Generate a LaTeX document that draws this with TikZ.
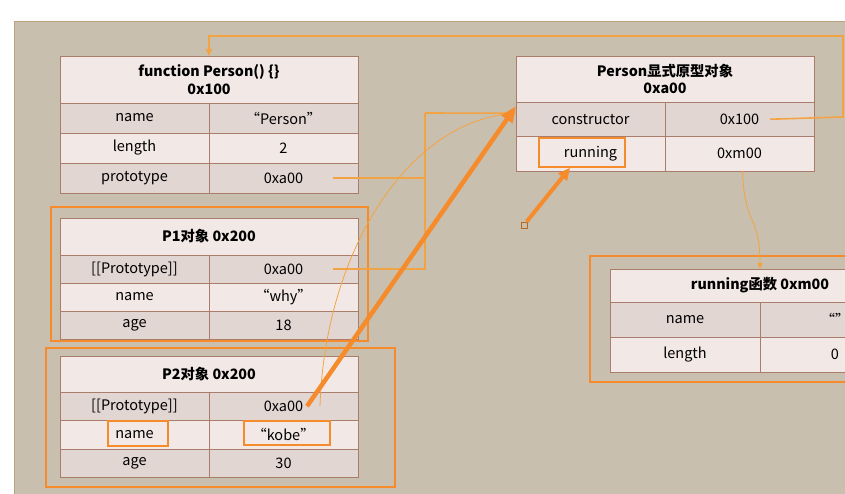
\documentclass[tikz,border=0pt]{standalone}
\usepackage{fontspec}
\setmainfont{Noto Sans CJK SC}
\usetikzlibrary{arrows.meta,positioning}
\definecolor{bgtan}{HTML}{C9BFAE}
\definecolor{bgline}{HTML}{B9A27E}
\definecolor{cellline}{HTML}{A97C6B}
\definecolor{celllight}{HTML}{F2E9E7}
\definecolor{celldark}{HTML}{E2D6D2}
\definecolor{hlorange}{HTML}{F68B2C}
\definecolor{lnorange}{HTML}{F2A445}

\begin{document}
\begin{tikzpicture}[
  x=1pt, y=-1pt,
  cell/.style={rectangle, draw=cellline, line width=0.9pt, inner sep=0pt, outer sep=0pt, minimum width=149pt, font=\fontsize{14.5}{16}\selectfont},
  dk/.style={cell, fill=celldark, minimum height=#1},
  dk/.default=30pt,
  lt/.style={cell, fill=celllight, minimum height=#1},
  lt/.default=30pt,
  head/.style={cell, fill=celllight, minimum width=298pt, align=center, font=\fontsize{14.3}{17.5}\selectfont\bfseries},
  frame/.style={draw=hlorange, line width=1.6pt},
  hlbox/.style={rectangle, draw=hlorange, line width=1.6pt, inner sep=0pt},
  link/.style={draw=lnorange, line width=1.6pt},
  arrow/.style={link, -{Triangle[length=7pt,width=6pt]}},
  bigarrow/.style={draw=hlorange, line width=4.5pt, -{Triangle[length=16pt,width=13pt]}},
  handlebox/.style={rectangle, draw=hlorange!75!black, fill=bgtan, line width=0.8pt, minimum size=6pt, inner sep=0pt}
]
\clip (0,0) rectangle (845,494);
\fill[white] (0,0) rectangle (845,494);
\draw[bgline, fill=bgtan, line width=1pt] (14,22) rectangle (860,510);

% function Person
\node[head, minimum height=47pt, anchor=north west] (fhead) at (60,56) {function Person() \{\}\\0x100};
\node[dk, anchor=north west] (fname) at (fhead.south west) {name};
\node[dk, right=0pt of fname] (fnamev) {“Person”};
\node[lt, below=0pt of fname] (flen) {length};
\node[lt, right=0pt of flen] (flenv) {2};
\node[dk, below=0pt of flen] (fproto) {prototype};
\node[dk, right=0pt of fproto] (fprotov) {0xa00};

% P1
\draw[frame] (51,207) rectangle (368,341);
\node[head, minimum height=37pt, anchor=north west] (p1head) at (60,218) {P1对象 0x200};
\node[dk=28pt, anchor=north west] (p1proto) at (p1head.south west) {[[Prototype]]};
\node[dk=28pt, right=0pt of p1proto] (p1protov) {0xa00};
\node[lt=28pt, below=0pt of p1proto] (p1name) {name};
\node[lt=28pt, right=0pt of p1name] (p1namev) {“why”};
\node[dk=28pt, below=0pt of p1name] (p1age) {age};
\node[dk=28pt, right=0pt of p1age] (p1agev) {18};

% P2
\draw[frame] (46,348) rectangle (395,487);
\node[head, minimum height=36pt, anchor=north west] (p2head) at (60,356) {P2对象 0x200};
\node[dk=28.5pt, anchor=north west] (p2proto) at (p2head.south west) {[[Prototype]]};
\node[dk=28.5pt, right=0pt of p2proto] (p2protov) {0xa00};
\node[lt=28.5pt, below=0pt of p2proto] (p2name) {name};
\node[lt=28.5pt, right=0pt of p2name] (p2namev) {“kobe”};
\node[dk=28.5pt, below=0pt of p2name] (p2age) {age};
\node[dk=28.5pt, right=0pt of p2age] (p2agev) {30};
\node[hlbox, minimum width=60pt, minimum height=25pt] (namehl) at (138,433.5) {};
\node[hlbox, minimum width=86pt, minimum height=24pt] (kobehl) at (287,433) {};

% Person prototype object
\node[head, minimum height=46pt, anchor=north west] (phead) at (516,56) {Person显式原型对象\\0xa00};
\node[dk=34.5pt, anchor=north west] (ctor) at (phead.south west) {constructor};
\node[dk=34.5pt, right=0pt of ctor] (ctorv) {0x100};
\node[lt=34.5pt, below=0pt of ctor] (run) {running};
\node[lt=34.5pt, right=0pt of run] (runv) {0xm00};
\node[hlbox, minimum width=86pt, minimum height=29pt] (runhl) at (582,152.5) {};

% running function
\draw[frame] (590,256) rectangle (870,382);
\node[head, minimum width=300pt, minimum height=33pt, anchor=north west] (rfhead) at (610,269) {running函数 0xm00};
\node[dk=35pt, minimum width=150pt, anchor=north west] (rfname) at (rfhead.south west) {name};
\node[dk=35pt, minimum width=150pt, right=0pt of rfname] (rfnamev) {“”};
\node[lt=35pt, minimum width=150pt, below=0pt of rfname] (rflen) {length};
\node[lt=35pt, minimum width=150pt, right=0pt of rflen] (rflenv) {0};

% connectors
\coordinate (jn) at (425,113);
\draw[arrow] ([xshift=-44pt]ctorv.east) -- (843,117) |- (209,36) -- (fhead.north);
\draw[link] ([xshift=-25pt]fprotov.east) -| (jn);
\draw[link] ([xshift=-25pt]p1protov.east) -| (jn);
\draw[arrow] (jn) -- ([yshift=6pt]ctor.west);
\draw[draw=lnorange, line width=0.8pt] ([xshift=-38pt]p2protov.east) .. controls (325,250) and (410,118) .. ([yshift=6pt]ctor.west);
\draw[bigarrow] ([xshift=-51pt]p2protov.east) -- ([yshift=13pt]ctor.west);
\draw[draw=lnorange, line width=0.8pt, -{Triangle[length=6pt,width=5pt]}] ([xshift=3pt]runv.south) .. controls (744,225) and (760,215) .. (rfhead.north);
\node[handlebox] (handle) at (524,225) {};
\draw[draw=hlorange, line width=4pt, -{Triangle[length=12pt,width=11pt]}] (handle) -- ([xshift=-12pt]runhl.south);
\end{tikzpicture}
\end{document}
